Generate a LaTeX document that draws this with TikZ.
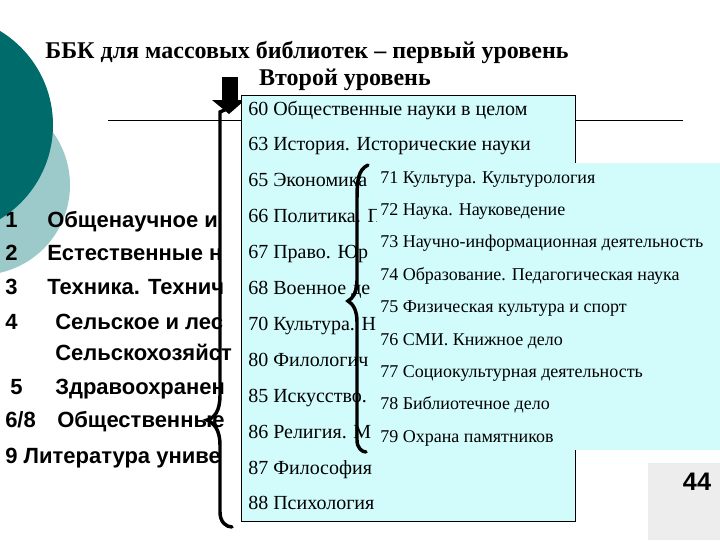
\documentclass[tikz,border=0pt]{standalone}
\usepackage{fontspec}
\setmainfont{Liberation Serif}
\setsansfont{Liberation Sans}
\begin{document}
\begin{tikzpicture}[x=0.75pt,y=-0.75pt,
  lft/.style={anchor=base west,font=\sffamily\bfseries\fontsize{16.5}{16.5}\selectfont,inner sep=0pt},
  it1/.style={anchor=base west,font=\fontsize{15}{15}\selectfont,inner sep=0pt},
  it2/.style={anchor=base west,font=\fontsize{13.5}{13.5}\selectfont,inner sep=0pt},
  brace/.style={line width=2.6pt,line cap=round}]
\useasboundingbox (0,0) rectangle (720,540);
\definecolor{dteal}{HTML}{006B6B}\definecolor{lteal}{HTML}{9CCACA}
\definecolor{cy}{HTML}{D2FCFC}
\fill[lteal] (-20,185) circle (90);
\fill[dteal] (-57,125) circle (110);
\node[font=\bfseries\fontsize{18}{18}\selectfont] (t1) at (307,52) {ББК для массовых библиотек – первый уровень};
\node[font=\bfseries\fontsize{18}{18}\selectfont] (t2) at (345,80) {Второй уровень};
\draw (108,120) -- (683,120);
% left list
\foreach \n/\y/\x/\t in {1/227/47/Общенаучное и,2/260/47/Естественные н,3/294/47/Техника. Технич,4/329/55/Сельское и лес}
  {\node[lft] (n\n) at (5,\y) {\n}; \node[lft] (l\n) at (\x,\y) {\t};}
\node[lft] (l4b) at (55,360) {Сельскохозяйст};
\node[lft] (n5) at (10,394) {5}; \node[lft] (l5) at (55,394) {Здравоохранен};
\node[lft] (n6) at (5,427) {6/8}; \node[lft] (l6) at (57,427) {Общественные};
\node[lft] (l9) at (5,463) {9 Литература униве};
% arrow
\fill (222,77) rectangle (238,101);
\fill (212,100) -- (245,100) -- (229,114) -- cycle;
% box 1
\node[draw,fill=cy,minimum width=334*0.75pt,minimum height=426*0.75pt,anchor=north west,inner sep=0pt] (b1) at (241,95) {};
\foreach \t [count=\i] in {60 Общественные науки в целом,63 История. Исторические науки,65 Экономика,66 Политика. П,67 Право. Юр,68 Военное де,70 Культура. Н,80 Филологич,85 Искусство.,86 Религия. М,87 Философия,88 Психология}
  \node[it1] (a\i) at (248,{115+35.9*(\i-1)}) {\t};
% box 2
\node[fill=cy,minimum width=343*0.75pt,minimum height=287*0.75pt,anchor=north west,inner sep=0pt] (b2) at (377,163) {};
\foreach \t [count=\i] in {71 Культура. Культурология,72 Наука. Науковедение,73 Научно-информационная деятельность,74 Образование. Педагогическая наука,75 Физическая культура и спорт,76 СМИ. Книжное дело,77 Социокультурная деятельность,78 Библиотечное дело,79 Охрана памятников}
  \node[it2] (c\i) at (380,{183+32.4*(\i-1)}) {\t};
% braces
\draw[brace] (229,108) -- (220,112) -- (220,395) .. controls (220,412) and (214,418) .. (207,420) .. controls (214,423) and (220,430) .. (220,445) -- (220,512) .. controls (220,522) and (226,527) .. (232,527);
\draw[brace] (368,165) .. controls (358,170) and (357,180) .. (357,200) -- (357,280) .. controls (357,293) and (353,298) .. (348,301) .. controls (353,304) and (357,310) .. (357,322) -- (357,440) .. controls (357,448) and (362,452) .. (366,452);
% page number
\node[fill=black!7,minimum width=72*0.75pt,minimum height=77*0.75pt,anchor=north west,inner sep=0pt] (pg) at (648,463) {};
\node[font=\sffamily\bfseries\fontsize{19}{19}\selectfont] (pn) at (697,482) {44};
\end{tikzpicture}
\end{document}
